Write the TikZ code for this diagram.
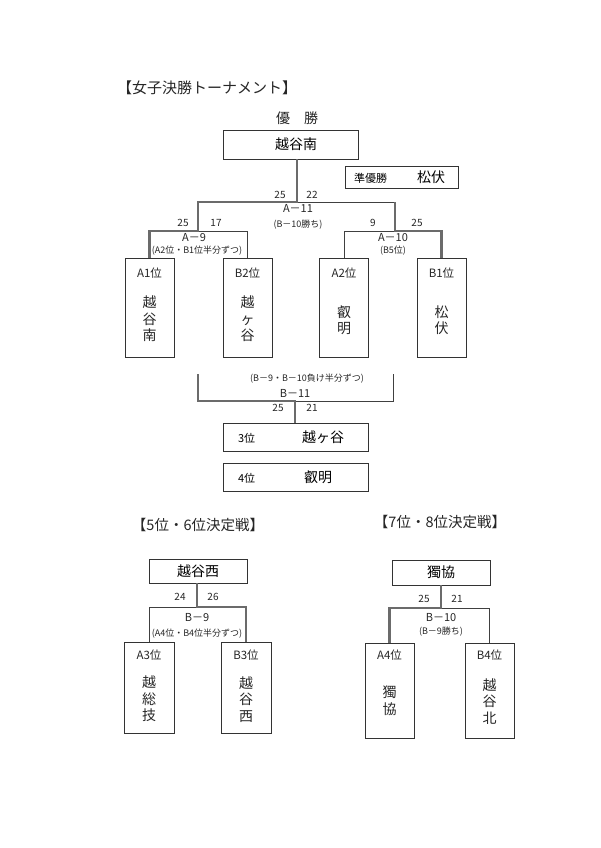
\documentclass[tikz,border=0pt]{standalone}
\usepackage{fontspec}
\setmainfont{Noto Sans CJK JP}
\newcommand{\myfs}[1]{\fontsize{#1}{#1}\selectfont}
\begin{document}
\begin{tikzpicture}[x=1pt,y=-1pt,
 box/.style={draw=black!80, line width=0.8pt, inner sep=0pt, outer sep=0pt},
 win/.style={draw=black!58, line width=2.4pt},
 lose/.style={draw=black!75, line width=0.8pt},
 txt/.style={inner sep=0pt, text=black!85},
 score/.style={txt, font=\myfs{10}},
 match/.style={txt, font=\myfs{11}},
 note/.style={txt, font=\myfs{9}},
 poslab/.style={txt, font=\myfs{11.5}},
 vname/.style={txt, font=\fontsize{14}{16.5}\selectfont, align=center},
 ttl/.style={txt, font=\myfs{15}},
 subttl/.style={txt, font=\myfs{14.5}},
]
\useasboundingbox (0,0) rectangle (600,848);

% ---- titles
\node[ttl, anchor=west] (title) at (117,88) {【女子決勝トーナメント】};
\node[txt, font=\myfs{14}] (yusho) at (297,118) {優　勝};

% ---- champion / runner-up
\node[box, minimum width=135, minimum height=29, font=\myfs{14}] (champ) at (290.5,144.5) {\hspace*{11pt}越谷南};
\node[box, minimum width=113, minimum height=22, text width=95, inner xsep=9, align=left] (runner) at (401.5,177) {{\myfs{11}準優勝}\hspace{30pt}{\myfs{14}松伏}};

% ---- first-round boxes
\node[box, minimum width=49, minimum height=99] (A1) at (149.5,307.5) {};
\node[poslab] (A1l) at (149.5,273) {A1位};
\node[vname] (A1n) at (149.5,319) {越\\谷\\南};

\node[box, minimum width=49, minimum height=99] (B2) at (247.5,307.5) {};
\node[poslab] (B2l) at (247.5,273) {B2位};
\node[vname] (B2n) at (247.5,319) {越\\ヶ\\谷};

\node[box, minimum width=49, minimum height=99] (A2) at (344,307.5) {};
\node[poslab] (A2l) at (344,273) {A2位};
\node[vname] (A2n) at (344,320) {叡\\明};

\node[box, minimum width=49, minimum height=99] (B1) at (441.5,307.5) {};
\node[poslab] (B1l) at (441.5,273) {B1位};
\node[vname] (B1n) at (441.5,320) {松\\伏};

% ---- bracket junctions
\coordinate (jA11) at (297,202);
\coordinate (jA9) at (198,231);
\coordinate (jA10) at (395,231);

\draw[lose] (B2.north) -- (B2.north |- jA9) -- (jA9);
\draw[lose] (A2.north) -- (A2.north |- jA10) -- (jA10);
\draw[lose] (jA10 |- jA11) -- (jA11);
\draw[win, line join=miter] (A1.north) -- (A1.north |- jA9) -- (jA9) -- (jA9 |- jA11) -- (jA11) -- (jA11 |- champ.south);
\draw[win, line join=miter] (B1.north) -- (B1.north |- jA10) -- (jA10) -- (jA10 |- jA11);

% ---- A-11 labels
\node[score] (sA11l) at (280,195) {25};
\node[score] (sA11r) at (312,195) {22};
\node[match] (mA11) at (298,208) {A－11};
\node[note] (nA11) at (298,225) {(B－10勝ち)};

% ---- A-9 labels
\node[score] (sA9l) at (183,223) {25};
\node[score] (sA9r) at (216,223) {17};
\node[match] (mA9) at (194,238) {A－9};
\node[note] (nA9) at (197,251) {(A2位・B1位半分ずつ)};

% ---- A-10 labels
\node[score] (sA10l) at (373,223) {9};
\node[score] (sA10r) at (417,223) {25};
\node[match] (mA10) at (393,238) {A－10};
\node[note] (nA10) at (393,251) {(B5位)};

% ---- third place
\node[box, minimum width=145, minimum height=28, text width=115, inner xsep=15, align=left] (third) at (295.5,437) {{\myfs{11}3位}\hspace{47pt}{\myfs{14}越ヶ谷}};
\node[box, minimum width=145, minimum height=28, text width=115, inner xsep=15, align=left] (fourth) at (295.5,477) {{\myfs{11}4位}\hspace{49pt}{\myfs{14}叡明}};

\coordinate (b11L) at (198,374);
\coordinate (b11R) at (393,374);
\coordinate (jB11) at (295,401);
\draw[lose] (b11R) -- (b11R |- jB11) -- (jB11);
\draw[win, line join=miter] (b11L) -- (b11L |- jB11) -- (jB11) -- (jB11 |- third.north);

\node[note] (nB11) at (307,379) {(B－9・B－10負け半分ずつ)};
\node[match] (mB11) at (295,393) {B－11};
\node[score] (sB11l) at (278,408) {25};
\node[score] (sB11r) at (312,408) {21};

% ---- 5th/6th
\node[subttl] (t56) at (198,525) {【5位・6位決定戦】};
\node[box, minimum width=98, minimum height=24, font=\myfs{14}] (w56) at (198,571) {越谷西};
\node[box, minimum width=50, minimum height=91] (A3) at (149,687.5) {};
\node[poslab] (A3l) at (149,655) {A3位};
\node[vname] (A3n) at (149,699) {越\\総\\技};
\node[box, minimum width=50, minimum height=91] (B3) at (246,687.5) {};
\node[poslab] (B3l) at (246,655) {B3位};
\node[vname] (B3n) at (246,699.5) {越\\谷\\西};

\coordinate (jB9) at (197,607);
\draw[lose] (A3.north) -- (A3.north |- jB9) -- (jB9);
\draw[win, line join=miter] (B3.north) -- (B3.north |- jB9) -- (jB9) -- (jB9 |- w56.south);

\node[score] (sB9l) at (180,597) {24};
\node[score] (sB9r) at (213,597) {26};
\node[match] (mB9) at (197,618) {B－9};
\node[note] (nB9) at (197,634) {(A4位・B4位半分ずつ)};

% ---- 7th/8th
\node[subttl] (t78) at (440,522) {【7位・8位決定戦】};
\node[box, minimum width=98, minimum height=25, font=\myfs{14}] (w78) at (441,572.5) {獨協};
\node[box, minimum width=49, minimum height=95] (A4) at (389.5,690.5) {};
\node[poslab] (A4l) at (389.5,655) {A4位};
\node[vname] (A4n) at (389.5,700.5) {獨\\協};
\node[box, minimum width=49, minimum height=95] (B4) at (489.5,690.5) {};
\node[poslab] (B4l) at (489.5,655) {B4位};
\node[vname] (B4n) at (489.5,701.5) {越\\谷\\北};

\coordinate (jB10) at (441,608);
\draw[lose] (B4.north) -- (B4.north |- jB10) -- (jB10);
\draw[win, line join=miter] (A4.north) -- (A4.north |- jB10) -- (jB10) -- (jB10 |- w78.south);

\node[score] (sB10l) at (424,599) {25};
\node[score] (sB10r) at (457,599) {21};
\node[match] (mB10) at (441,618) {B－10};
\node[note] (nB10) at (441,632) {(B－9勝ち)};
\end{tikzpicture}
\end{document}
